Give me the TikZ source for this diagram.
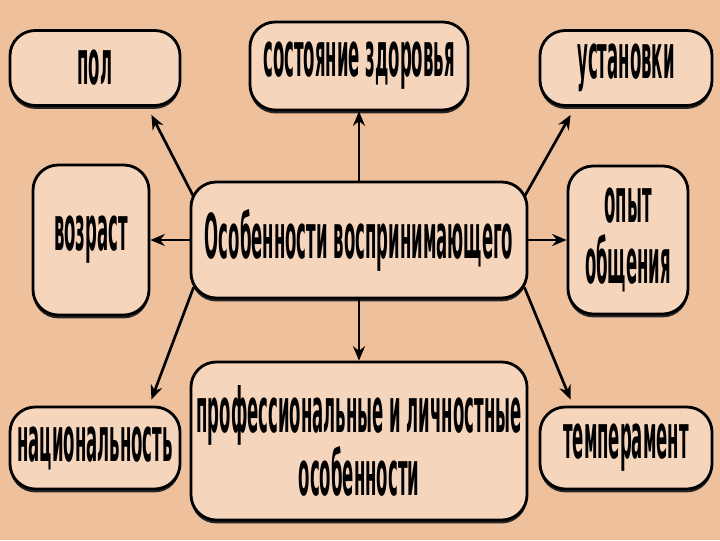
\documentclass[tikz,border=0pt]{standalone}
\usepackage{fontspec}
\setmainfont{DejaVu Sans}[FakeStretch=0.267]
\usetikzlibrary{arrows.meta,shadows}
\definecolor{bgpeach}{HTML}{EFC09C}
\definecolor{boxfill}{HTML}{F6D5BD}
\tikzset{
  box/.style={draw=black, line width=2pt, rounded corners=18pt, fill=boxfill,
    align=center, inner sep=0pt, font=\bfseries\fontsize{44}{44}\selectfont,
    drop shadow={shadow xshift=0pt, shadow yshift=-2.4pt, fill=black!85, opacity=1}},
  arr/.style={-{Stealth[length=3.6mm,width=3mm]}, line width=1.9pt}
}
\begin{document}
\begin{tikzpicture}[x=0.025cm, y=-0.025cm]
  \fill[bgpeach] (0,0) rectangle (720,540);
  % outer ring of factors
  \node[box, minimum width=4.25cm, minimum height=1.875cm] (pol) at (95,68) {пол};
  \node[box, minimum width=5.45cm, minimum height=2.2cm] (zdor) at (359,66) {состояние здоровья};
  \node[box, minimum width=4.3cm, minimum height=1.875cm] (ustan) at (626,68) {установки};
  \node[box, minimum width=2.9cm, minimum height=3.75cm] (vozr) at (91,240) {возраст};
  \node[box, minimum width=3cm, minimum height=3.7cm] (opyt) at (628,240) {опыт\\общения};
  \node[box, minimum width=4.25cm, minimum height=2.05cm] (nac) at (95,448) {национальность};
  \node[box, minimum width=8.4cm, minimum height=3.95cm] (prof) at (359,441) {профессиональные и личностные\\особенности};
  \node[box, minimum width=4.3cm, minimum height=2.05cm] (temp) at (626,448) {темперамент};
  % centre
  \node[box, minimum width=8.4cm, minimum height=2.9cm] (main) at (359,240) {Особенности воспринимающего};
  \draw[arr] ([xshift=0.1cm,yshift=-0.4cm]main.north west) -- ([xshift=-0.75cm,yshift=-0.2cm]pol.south east);
  \draw[arr] (main.north) -- (zdor.south);
  \draw[arr] ([xshift=-0.1cm,yshift=-0.4cm]main.north east) -- ([xshift=0.8cm,yshift=-0.2cm]ustan.south west);
  \draw[arr] (main.west) -- (vozr.east);
  \draw[arr] (main.east) -- (opyt.west);
  \draw[arr] ([xshift=0.1cm,yshift=0.3cm]main.south west) -- ([xshift=-0.75cm,yshift=0.15cm]nac.north east);
  \draw[arr] (main.south) -- (prof.north);
  \draw[arr] ([xshift=-0.1cm,yshift=0.3cm]main.south east) -- ([xshift=0.8cm,yshift=0.15cm]temp.north west);
\end{tikzpicture}
\end{document}
